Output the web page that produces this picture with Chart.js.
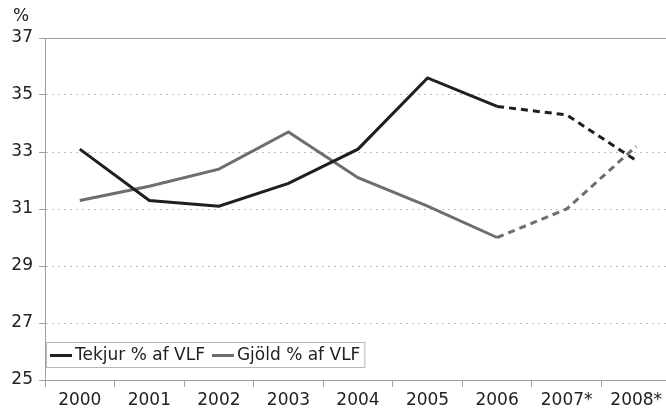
<!DOCTYPE html>
<html>
<head>
<meta charset="utf-8">
<script src="https://cdn.jsdelivr.net/npm/chart.js@4"></script>
<style>
  html, body { margin: 0; padding: 0; overflow: hidden; background: #fff; }
  #wrap { width: 676px; height: 414px; }
</style>
</head>
<body>
<div id="wrap"><canvas id="chartVlf" width="676" height="414"></canvas></div>
<script>
const years = ['2000', '2001', '2002', '2003', '2004', '2005', '2006', '2007*', '2008*'];
const tekjur = [33.1, 31.3, 31.1, 31.9, 33.1, 35.6, 34.6, 34.3, 32.7];
const gjold = [31.3, 31.8, 32.4, 33.7, 32.1, 31.1, 30.0, 31.0, 33.2];
const yTicks = [25, 27, 29, 31, 33, 35, 37];

const FONT = 'DejaVu Sans, Verdana, sans-serif';
const forecastFrom = 6; // dashed from 2006 on

const dashAfter = ctx => ctx.p0DataIndex >= forecastFrom ? [7, 5] : undefined;

// legend drawn inside the plot, bottom left, with a box round it
const boxLegend = {
  id: 'boxLegend',
  afterDraw(chart) {
    const c = chart.ctx;
    const a = chart.chartArea;
    c.save();
    // % label over the y axis
    c.font = '17px ' + FONT;
    c.fillStyle = '#222';
    c.textAlign = 'center';
    c.textBaseline = 'middle';
    c.fillText('%', 21, 17);
    // top border line
    c.strokeStyle = '#a0a0a0';
    c.lineWidth = 1;
    c.beginPath();
    c.moveTo(a.left, a.top + 0.5);
    c.lineTo(a.right, a.top + 0.5);
    c.stroke();

    const x0 = a.left + 1, y0 = 342, h = 25;
    let x = x0 + 4;
    const ym = y0 + h / 2 + 1;
    const items = chart.data.datasets.map(ds => {
      const item = { ds, x };
      x += 25 + c.measureText(ds.label).width + 7;
      return item;
    });
    const w = x - x0 - 3;
    c.fillStyle = '#fff';
    c.fillRect(x0, y0, w, h);
    c.strokeStyle = '#b8b8b8';
    c.strokeRect(x0 + 0.5, y0 + 0.5, w, h);
    c.textAlign = 'left';
    items.forEach(({ ds, x }) => {
      c.strokeStyle = ds.borderColor;
      c.lineWidth = 3;
      c.beginPath();
      c.moveTo(x, ym);
      c.lineTo(x + 22, ym);
      c.stroke();
      c.fillStyle = '#222';
      c.fillText(ds.label, x + 25, ym);
    });
    c.restore();
  }
};

new Chart(document.getElementById('chartVlf'), {
  type: 'line',
  data: {
    labels: years,
    datasets: [
      {
        label: 'Tekjur % af VLF',
        data: tekjur,
        borderColor: '#1f1f1f',
        borderWidth: 3,
        pointRadius: 0,
        tension: 0,
        segment: { borderDash: dashAfter }
      },
      {
        label: 'Gjöld % af VLF',
        data: gjold,
        borderColor: '#6e6e6e',
        borderWidth: 3,
        pointRadius: 0,
        tension: 0,
        segment: { borderDash: dashAfter }
      }
    ]
  },
  options: {
    responsive: false,
    animation: false,
    layout: { padding: { top: 38, right: 5, left: 0, bottom: 0 } },
    plugins: {
      legend: { display: false },
      title: { display: false },
      tooltip: { enabled: false }
    },
    scales: {
      x: {
        offset: true,
        grid: {
          offset: true,
          drawOnChartArea: false,
          drawTicks: true,
          tickLength: 7,
          color: '#a0a0a0'
        },
        border: { color: '#a0a0a0', width: 1 },
        ticks: {
          color: '#222',
          font: { family: FONT, size: 17 },
          padding: 3,
          maxRotation: 0,
          autoSkip: false
        },
        afterFit: s => { s.height = 34; }
      },
      y: {
        min: 25,
        max: 37,
        afterBuildTicks: s => { s.ticks = yTicks.map(v => ({ value: v })); },
        grid: {
          color: '#bdbdbd',
          tickLength: 6,
          tickColor: '#a0a0a0'
        },
        border: { color: '#a0a0a0', width: 1, dash: [2, 4] },
        ticks: {
          color: '#222',
          font: { family: FONT, size: 17 },
          padding: 6
        },
        afterFit: s => { s.width = 45; }
      }
    }
  },
  plugins: [boxLegend]
});
</script>
</body>
</html>
